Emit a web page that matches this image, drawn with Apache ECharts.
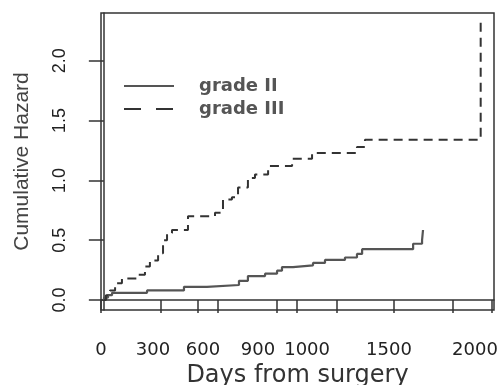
<!DOCTYPE html>
<html>
<head>
<meta charset="utf-8">
<script src="https://cdn.jsdelivr.net/npm/echarts@6/dist/echarts.min.js"></script>
<style>
  html, body { margin: 0; padding: 0; background: #fff; }
  #chart { width: 500px; height: 385px; }
</style>
</head>
<body>
<div id="chart"></div>
<script>
// step points: [days, cumulative hazard]
const gradeII = [
  [0, 0], [1, 0.02], [22, 0.04], [43, 0.06], [227, 0.08], [421, 0.11],
  [542, 0.125], [710, 0.16], [757, 0.20], [847, 0.22], [910, 0.245],
  [936, 0.275], [994, 0.29], [1099, 0.31], [1162, 0.335], [1267, 0.355],
  [1330, 0.385], [1357, 0.425], [1625, 0.47], [1672, 0.50], [1677, 0.585]
];
const gradeIII = [
  [0, 0], [11, 0.04], [32, 0.08], [59, 0.14], [95, 0.18], [179, 0.21],
  [216, 0.28], [242, 0.33], [285, 0.39], [311, 0.50], [332, 0.56],
  [358, 0.585], [442, 0.70], [584, 0.73], [626, 0.84], [673, 0.86],
  [705, 0.94], [757, 1.02], [794, 1.05], [863, 1.12], [989, 1.18],
  [1094, 1.23], [1330, 1.28], [1372, 1.34], [1980, 2.32]
];

const xTicks = [-15, 300, 495, 600, 910, 1015, 1225, 1525, 1835, 2040];
const xLabelPos = [-15, 258, 521, 810, 1068, 1498, 1950];
const xLabelText = ["0", "300", "600", "900", "1000", "1500", "2000"];
const yTicks = [0, 0.5, 1, 1.5, 2];
const yLabelText = ["0.0", "0.5", "1.0", "1.5", "2.0"];

const chart = echarts.init(document.getElementById("chart"));

const option = {
  animation: false,
  backgroundColor: "#fff",
  grid: {
    left: 101, right: 6, top: 13, bottom: 75,
    outerBoundsMode: "none",
    show: true, borderColor: "#333", borderWidth: 1.5
  },
  legend: {
    left: 123, top: 77, orient: "vertical", padding: 0,
    itemWidth: 50, itemHeight: 10, itemGap: 5,
    itemStyle: { opacity: 0 },
    textStyle: { fontFamily: "DejaVu Sans", fontSize: 18, color: "#555", fontWeight: "bold", padding: [0, 0, 0, 20] },
    data: [
      { name: "grade II" },
      { name: "grade III", lineStyle: { type: [17, 15] } }
    ]
  },
  xAxis: {
    type: "value", min: -15, max: 2050,
    splitLine: { show: false },
    axisLine: { lineStyle: { color: "#333", width: 1.5 } },
    axisTick: { show: true, length: 13, lineStyle: { color: "#333", width: 1.5 }, customValues: xTicks },
    axisLabel: {
      margin: 31, fontFamily: "DejaVu Sans", fontSize: 18, color: "#222",
      customValues: xLabelPos,
      formatter: v => xLabelText[xLabelPos.indexOf(v)]
    },
    name: "Days from surgery", nameLocation: "middle", nameGap: 48,
    nameTextStyle: { fontFamily: "DejaVu Sans", fontSize: 24, color: "#333" }
  },
  yAxis: {
    type: "value", min: -0.084, max: 2.40,
    splitLine: { show: false },
    axisLine: { show: true, lineStyle: { color: "#333", width: 1.5 } },
    axisTick: { show: true, length: 15, lineStyle: { color: "#333", width: 1.5 }, customValues: yTicks },
    axisLabel: {
      rotate: 90, margin: 32, fontFamily: "Liberation Sans", fontSize: 18, color: "#222",
      customValues: yTicks,
      formatter: v => yLabelText[yTicks.indexOf(v)]
    },
    name: "Cumulative Hazard", nameLocation: "middle", nameGap: 68, nameRotate: 90,
    nameTextStyle: { fontFamily: "Liberation Sans", fontSize: 21, color: "#444" }
  },
  series: [
    {
      name: "grade II", type: "line", step: "end", symbol: "none",
      data: gradeII,
      lineStyle: { color: "#555", width: 2.2, type: "solid" },
      itemStyle: { color: "#555" }
    },
    {
      name: "grade III", type: "line", step: "end", symbol: "none",
      data: gradeIII,
      lineStyle: { color: "#333", width: 2, type: [9, 6] },
      itemStyle: { color: "#333" }
    }
  ]
};

chart.setOption(option);
</script>
</body>
</html>
